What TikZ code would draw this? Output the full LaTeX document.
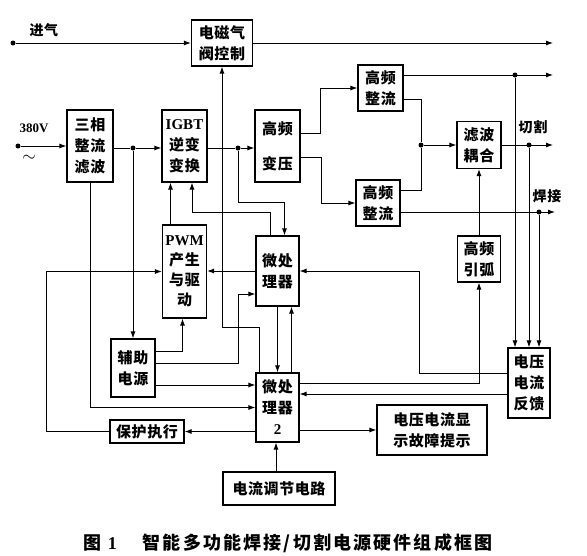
\documentclass[tikz,border=0pt]{standalone}
\usepackage{fontspec}
\usepackage{tikz}
\usetikzlibrary{arrows.meta, positioning, calc}
\newfontfamily\cjk{Noto Sans CJK SC}[LetterSpace=4]
\newfontfamily\cjkcap{Noto Sans CJK SC}[LetterSpace=12]
\newfontfamily\en{Liberation Serif}

\begin{document}
\begin{tikzpicture}[x=1pt, y=-1pt,
    blk/.style={rectangle, draw, line width=1.2pt, inner sep=1pt, align=center,
      font=\cjk\bfseries\fontsize{15}{21}\selectfont},
    wire/.style={line width=0.9pt},
    arr/.style={wire, -{Latex[length=7pt, width=5pt]}},
    jdot/.style={circle, fill, inner sep=0pt, minimum size=5pt},
    lbl/.style={font=\cjk\bfseries\fontsize{14}{16}\selectfont}
  ]
  \useasboundingbox (0,0) rectangle (587,555);
  % blocks
  \node[blk, minimum width=61pt, minimum height=46pt] (valve) at (222,43) {电磁气\\阀控制};
  \node[blk, minimum width=46pt, minimum height=72pt] (rect3) at (90,146) {三相\\整流\\滤波};
  \node[blk, minimum width=45pt, minimum height=72pt] (igbt) at (184.5,146) {{\en\bfseries IGBT}\\逆变\\变换};
  \node[blk, minimum width=45pt, minimum height=72pt] (xfmr) at (277.5,146) {高频\\[14pt]变压};
  \node[blk, minimum width=45pt, minimum height=46pt] (hfr1) at (380.5,88) {高频\\整流};
  \node[blk, minimum width=44pt, minimum height=46pt] (hfr2) at (378,203) {高频\\整流};
  \node[blk, minimum width=44pt, minimum height=47pt] (filt) at (479,145) {滤波\\耦合};
  \node[blk, minimum width=43pt, minimum height=46pt] (arc) at (479,259) {高频\\引弧};
  \node[blk, minimum width=42pt, minimum height=70pt] (fb) at (529,383) {电压\\电流\\反馈};
  \node[blk, minimum width=43pt, minimum height=70pt] (mcu1) at (277.5,271) {微处\\理器};
  \node[blk, minimum width=44pt, minimum height=93pt, font=\cjk\bfseries\fontsize{15}{20}\selectfont] (pwm) at (184.5,271.5) {{\en\bfseries PWM}\\产生\\与驱\\动};
  \node[blk, minimum width=44pt, minimum height=58pt] (aux) at (133,368) {辅助\\电源};
  \node[blk, minimum width=43pt, minimum height=69pt] (mcu2) at (277.5,407.5) {微处\\理器\\{\en\bfseries 2}};
  \node[blk, minimum width=74pt, minimum height=23pt] (prot) at (147,431.5) {保护执行};
  \node[blk, minimum width=110pt, minimum height=50pt] (disp) at (432,430) {电压电流显\\示故障提示};
  \node[blk, minimum width=112pt, minimum height=33pt] (curr) at (279,488.5) {电流调节电路};

  % inputs and outputs
  \node[jdot] (gasin) at (13,43) {};
  \node[lbl, anchor=south west] (gaslbl) at (26,40) {进气};
  \coordinate (gasout) at (553,43);
  \node[jdot] (acin) at (18,146) {};
  \node[font=\en\bfseries\fontsize{13}{15}\selectfont] (aclbl) at (34,128) {380V};
  \node[font=\fontsize{17}{17}\selectfont] (actil) at (29,158) {$\sim$};
  \coordinate (out1) at (553,75);
  \coordinate (out2) at (553,145);
  \coordinate (out3) at (555,212);
  \node[lbl] (cutlbl) at (533,127) {切割};
  \node[lbl] (weldlbl) at (547,196) {焊接};

  % junctions
  \node[jdot] (j1) at (133,148) {};
  \node[jdot] (j2) at (238,148) {};
  \node[jdot] (j3) at (515,75) {};
  \node[jdot] (j4) at (421,145) {};
  \node[jdot] (j5) at (529,145) {};
  \node[jdot] (j6) at (539,212) {};
  \coordinate (k1) at (222,327);

  % power path
  \draw[arr] (gasin) -- (valve.west |- gasin);
  \draw[arr] (valve.east) -- (gasout);
  \draw[arr] (acin) -- (rect3.west |- acin);
  \draw[wire] (rect3.east |- j1) -- (j1);
  \draw[arr] (j1) -- (igbt.west |- j1);
  \draw[arr] (j1) -- (aux.north);
  \draw[wire] (igbt.east |- j2) -- (j2);
  \draw[arr] (j2) -- (xfmr.west |- j2);
  \draw[arr] ([yshift=13pt]xfmr.east) -- ++(20,0) |- (hfr1.west);
  \draw[arr] ([yshift=-11pt]xfmr.east) -- ++(21,0) |- (hfr2.west);
  \draw[arr] ([yshift=13pt]hfr1.east) -- (out1);
  \draw[wire] ([yshift=-11pt]hfr1.east) -| (j4) |- ([yshift=13pt]hfr2.east);
  \draw[arr] (j4) -- (filt.west |- j4);
  \draw[arr] (filt.east) -- (out2);
  \draw[arr] ([yshift=-9pt]hfr2.east) -- (out3);
  \draw[arr] (arc.north) -- (filt.south);
  \foreach \j in {j3, j5, j6} {
    \draw[arr] (\j) -- (\j |- fb.north);
  }

  % control path
  \draw[arr] (rect3.south) |- (mcu2.west);
  \draw[arr] ($(mcu2.north west)+(4,0)$) |- (k1) -- (valve.south);
  \draw[arr] (j2) -- ++(0,54) -| ([xshift=7pt]mcu1.north);
  \draw[arr] ([xshift=-7pt]mcu1.north) -- ++(0,-23) -| ([xshift=7.5pt]igbt.south);
  \draw[arr] ([xshift=-14pt]pwm.north) -- ([xshift=-14pt]igbt.south);
  \draw[arr] (mcu1.west) -- (mcu1.west -| pwm.east);
  \draw[arr] (prot.west) -- ++(-63,0) |- (pwm.west);
  \draw[arr] ([yshift=17pt]aux.east) -| ([xshift=-2pt]pwm.south);
  \draw[arr] ([yshift=5pt]aux.east) -- ++(83,0) |- ([yshift=-23pt]mcu1.west);
  \draw[arr] ([yshift=-17pt]aux.east) -- ([yshift=-17pt]aux.east -| mcu2.west);
  \draw[arr] (prot.east -| mcu2.west) -- (prot.east);
  \draw[arr] (mcu1.south) -- (mcu2.north);
  \draw[arr] ([xshift=14pt]mcu2.north) -- ([xshift=14pt]mcu1.south);
  \draw[arr] ([xshift=-3pt]curr.north) -- ([xshift=-3pt]curr.north |- mcu2.south);
  \draw[arr] (mcu2.east |- disp.west) -- (disp.west);
  \draw[arr] ([yshift=24.5pt]mcu2.east) -| (arc.south);
  \draw[arr] ([yshift=10pt]fb.west) -- ++(-88,0) |- (mcu1.east);
  \draw[arr] ([yshift=-11pt]fb.west) -- ([yshift=-11pt]fb.west -| mcu2.east);

  % caption
  \node[font=\cjkcap\bfseries\fontsize{18}{20}\selectfont, anchor=west] (cap) at (80,543) {图 {\en\bfseries 1}\hspace{26pt}智能多功能焊接/切割电源硬件组成框图};
\end{tikzpicture}
\end{document}
